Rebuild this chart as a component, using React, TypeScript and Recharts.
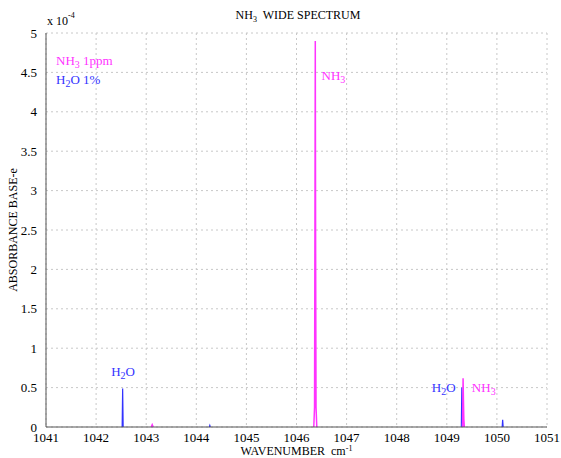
import { LineChart, Line, XAxis, YAxis, CartesianGrid, ReferenceDot } from 'recharts'

// absorbance values are in units of 1e-4
const nh3Wave = [1043.1, 1043.12, 1043.14, null, 1046.345, 1046.36, 1046.368, 1046.375, 1046.382, 1046.39, 1046.405, null, 1049.315, 1049.325, 1049.332, 1049.34, 1049.35]
const nh3Abs = [0, 0.03, 0, null, 0, 0.25, 2.5, 4.9, 2.2, 0.25, 0, null, 0, 0.62, 0.35, 0.1, 0]

const h2oWave = [1042.52, 1042.53, 1042.54, null, 1044.26, 1044.27, 1044.28, null, 1049.29, 1049.3, 1049.31, 1049.32, null, 1050.105, 1050.115, 1050.125]
const h2oAbs = [0, 0.49, 0, null, 0, 0.02, 0, null, 0, 0.5, 0.3, 0, null, 0, 0.09, 0]

const xTicks = [1041, 1042, 1043, 1044, 1045, 1046, 1047, 1048, 1049, 1050, 1051]
const yTicks = [0, 0.5, 1, 1.5, 2, 2.5, 3, 3.5, 4, 4.5, 5]

const nh3Data = nh3Wave.map((x, i) => ({ x, y: nh3Abs[i] }))
const h2oData = h2oWave.map((x, i) => ({ x, y: h2oAbs[i] }))

const MAGENTA = '#ff33ff'
const BLUE = '#3333ff'
const FONT = '"Liberation Serif", "DejaVu Serif", serif'

// label text with a subscript digit in the middle
const note = (pre: string, sub: string, post: string, color: string, anchor = 'start') => (p: any) => (
  <text x={p.cx} y={p.cy} fill={color} fontFamily={FONT} fontSize={13} textAnchor={anchor}>
    {pre}
    <tspan dy={3} fontSize={10}>{sub}</tspan>
    <tspan dy={-3}>{post}</tspan>
  </text>
)

export default function App() {
  return (
    <div style={{ position: 'absolute', left: 0, top: 0, width: 561, height: 458, background: '#fff', fontFamily: FONT }}>
      <div style={{ position: 'absolute', left: 0, width: 596, top: 8, textAlign: 'center', fontSize: 12 }}>
        NH<sub style={{ fontSize: 8 }}>3</sub>&nbsp; WIDE SPECTRUM
      </div>
      <div style={{ position: 'absolute', left: 47, top: 13, fontSize: 12 }}>
        x 10<sup style={{ fontSize: 8, position: 'relative', top: -2 }}>-4</sup>
      </div>
      <LineChart width={561} height={458} margin={{ top: 33, right: 14, bottom: 0, left: 6 }}>
        <CartesianGrid stroke="#c8c8c8" strokeDasharray="2 3" />
        <XAxis
          dataKey="x"
          type="number"
          domain={[1041, 1051]}
          ticks={xTicks}
          interval={0}
          allowDataOverflow
          height={31}
          tickLine={false}
          axisLine={{ stroke: '#555' }}
          tick={{ fill: '#000', fontSize: 13, fontFamily: FONT }}
          tickMargin={0}
          label={{
            content: (p: any) => (
              <text x={p.viewBox.x + p.viewBox.width / 2} y={p.viewBox.y + 28} textAnchor="middle" fontFamily={FONT} fontSize={12} fill="#000">
                WAVENUMBER&nbsp; cm
                <tspan dy={-4} fontSize={8}>-1</tspan>
              </text>
            ),
          }}
        />
        <XAxis xAxisId="top" orientation="top" type="number" domain={[1041, 1051]} height={0} tick={false} tickLine={false} axisLine={{ stroke: '#555' }} />
        <YAxis
          type="number"
          domain={[0, 5]}
          ticks={yTicks}
          interval={0}
          width={40}
          tickLine={false}
          axisLine={{ stroke: '#555' }}
          tick={{ fill: '#000', fontSize: 13, fontFamily: FONT }}
          tickMargin={3}
          label={{
            content: (p: any) => (
              <text
                x={17}
                y={p.viewBox.y + p.viewBox.height / 2}
                transform={`rotate(-90 17 ${p.viewBox.y + p.viewBox.height / 2})`}
                textAnchor="middle"
                fontFamily={FONT}
                fontSize={12}
                fill="#000"
              >
                ABSORBANCE BASE-e
              </text>
            ),
          }}
        />
        <YAxis yAxisId="right" orientation="right" domain={[0, 5]} width={0} tick={false} tickLine={false} axisLine={{ stroke: '#555' }} />
        <Line data={h2oData} dataKey="y" stroke={BLUE} strokeWidth={1.2} dot={false} isAnimationActive={false} connectNulls={false} />
        <Line data={nh3Data} dataKey="y" stroke={MAGENTA} strokeWidth={1.5} dot={false} isAnimationActive={false} connectNulls={false} />
        <ReferenceDot x={1041.2} y={4.6} r={0} shape={note('NH', '3', ' 1ppm', MAGENTA)} />
        <ReferenceDot x={1041.2} y={4.35} r={0} shape={note('H', '2', 'O 1%', BLUE)} />
        <ReferenceDot x={1046.5} y={4.4} r={0} shape={note('NH', '3', '', MAGENTA)} />
        <ReferenceDot x={1042.3} y={0.65} r={0} shape={note('H', '2', 'O', BLUE)} />
        <ReferenceDot x={1048.7} y={0.45} r={0} shape={note('H', '2', 'O', BLUE)} />
        <ReferenceDot x={1049.5} y={0.45} r={0} shape={note('NH', '3', '', MAGENTA)} />
      </LineChart>
    </div>
  )
}
